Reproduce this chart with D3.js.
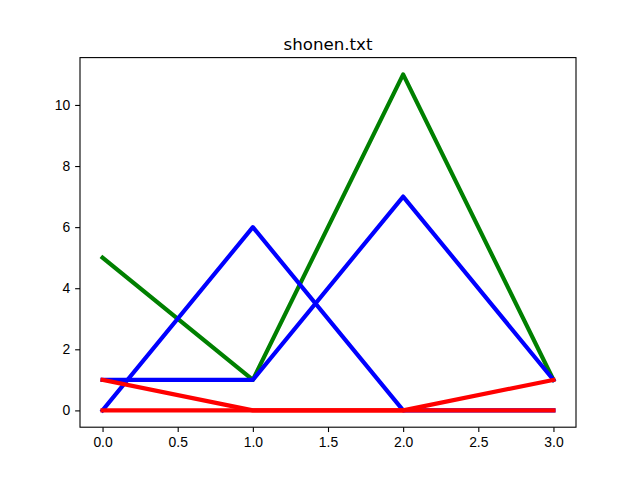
<!DOCTYPE html>
<html>
<head>
<meta charset="utf-8">
<script src="https://cdn.jsdelivr.net/npm/d3@7"></script>
<style>
  body { margin: 0; background: #fff; }
  svg { display: block; font-family: "DejaVu Sans", sans-serif; }
  .tick text { font-size: 13.9px; fill: #000; }
  .tick line { stroke: #000; stroke-width: 1.1; }
  .domain { display: none; }
</style>
</head>
<body>
<svg id="chart" width="640" height="480"></svg>
<script>
// Data, drawn in the same order as the original
const xs = [0, 1, 2, 3];
const green = [5, 1, 11, 1];
const blueA = [1, 1, 7, 1];
const blueB = [0, 6, 0, 0];
const redA = [1, 0, 0, 1];
const redB = [0, 0, 0, 0];
const xTicks = [0, 0.5, 1, 1.5, 2, 2.5, 3];
const yTicks = [0, 2, 4, 6, 8, 10];

const series = [
  { values: green, color: "#008000" },
  { values: blueA, color: "#0000ff" },
  { values: blueB, color: "#0000ff" },
  { values: redA, color: "#ff0000" },
  { values: redB, color: "#ff0000" }
];

const margin = { top: 57.6, right: 64, bottom: 52.8, left: 80 };
const width = 640 - margin.left - margin.right;
const height = 480 - margin.top - margin.bottom;

const svg = d3.select("#chart")
  .append("g")
  .attr("transform", `translate(${margin.left},${margin.top})`);

const x = d3.scaleLinear().domain([-0.15, 3.15]).range([0, width]);
const y = d3.scaleLinear().domain([-0.55, 11.55]).range([height, 0]);

// Clip lines to the axes area
svg.append("clipPath").attr("id", "clip")
  .append("rect").attr("width", width).attr("height", height);

const line = d3.line()
  .x((d, i) => x(xs[i]))
  .y(d => y(d));

svg.append("g")
  .attr("clip-path", "url(#clip)")
  .selectAll("path")
  .data(series)
  .enter()
  .append("path")
  .attr("d", d => line(d.values))
  .attr("fill", "none")
  .attr("stroke", d => d.color)
  .attr("stroke-width", 4.17)
  .attr("stroke-linejoin", "round")
  .attr("stroke-linecap", "square");

// Axes
svg.append("g")
  .attr("transform", `translate(0,${height})`)
  .call(d3.axisBottom(x)
    .tickValues(xTicks)
    .tickFormat(d3.format(".1f"))
    .tickSize(4.86)
    .tickPadding(4.86));

svg.append("g")
  .call(d3.axisLeft(y)
    .tickValues(yTicks)
    .tickFormat(d3.format("d"))
    .tickSize(4.86)
    .tickPadding(4.86));

// Frame
svg.append("rect")
  .attr("width", width)
  .attr("height", height)
  .attr("fill", "none")
  .attr("stroke", "#000")
  .attr("stroke-width", 1.1);

// Title
svg.append("text")
  .attr("x", width / 2)
  .attr("y", -8)
  .attr("text-anchor", "middle")
  .style("font-size", "16.67px")
  .text("shonen.txt");
</script>
</body>
</html>
